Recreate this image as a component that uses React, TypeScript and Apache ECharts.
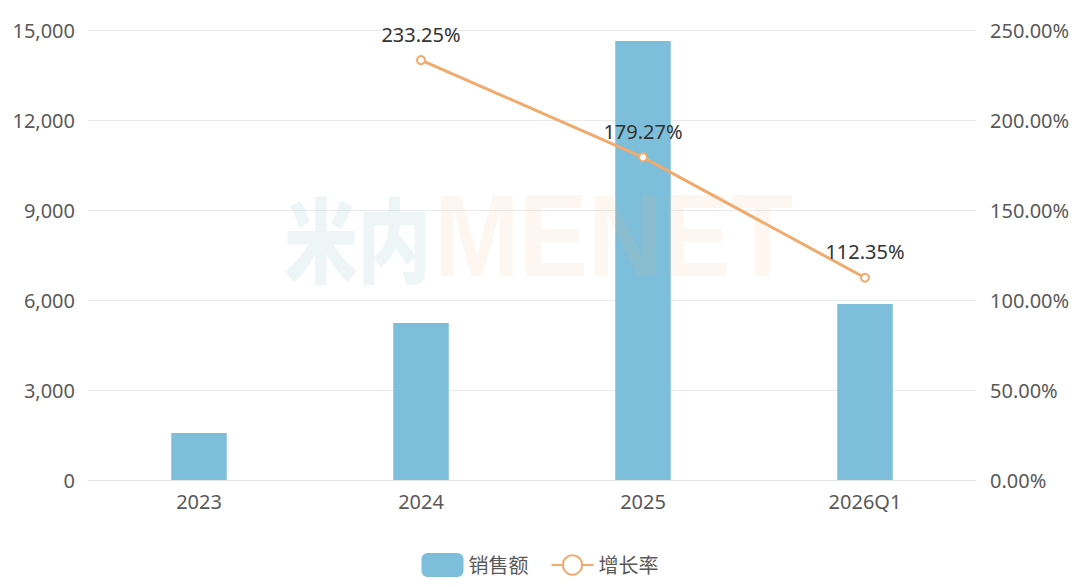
import React, { useEffect, useRef } from "react";
import * as echarts from "echarts";

const categories = ["2023", "2024", "2025", "2026Q1"];
const sales = [1570, 5230, 14630, 5870];
const growth = [null, 233.25, 179.27, 112.35];
const leftTicks = { min: 0, max: 15000, interval: 3000 };
const rightTicks = { min: 0, max: 250, interval: 50 };

const FONT = "'Noto Sans', 'Noto Sans CJK SC', sans-serif";

export default function App() {
  const ref = useRef<HTMLDivElement>(null);
  useEffect(() => {
    document.body.style.margin = "0";
    const chart = echarts.init(ref.current!, null, { renderer: "svg" });
    chart.setOption({
      animation: false,
      backgroundColor: "#ffffff",
      textStyle: { fontFamily: FONT },
      grid: { left: 88, right: 104, top: 30, bottom: 107 },
      legend: {
        bottom: 5,
        left: "center",
        itemWidth: 42,
        itemHeight: 24,
        itemGap: 22,
        textStyle: { fontSize: 20, color: "#595959", fontFamily: FONT },
        data: [
          { name: "销售额", icon: "roundRect" },
          { name: "增长率" },
        ],
      },
      graphic: [
        {
          type: "text",
          x: 284,
          y: 190,
          scaleX: 0.8,
          z: 100,
          silent: true,
          style: {
            text: "米内",
            fontSize: 92,
            fontWeight: 900,
            fontFamily: "'Noto Sans CJK SC', sans-serif",
            fill: "rgba(170,205,215,0.2)",
          },
        },
        {
          type: "text",
          x: 434,
          y: 178,
          scaleX: 0.885,
          z: 100,
          silent: true,
          style: {
            text: "MENET",
            fontSize: 116,
            fontWeight: "bold",
            fontFamily: "'Liberation Sans', Arial, sans-serif",
            fill: "rgba(250,190,140,0.12)",
          },
        },
      ],
      xAxis: {
        type: "category",
        data: categories,
        axisLine: { lineStyle: { color: "#e3e3e3" } },
        axisTick: { show: false },
        axisLabel: { fontSize: 20, color: "#595959", margin: 11 },
      },
      yAxis: [
        {
          type: "value",
          ...leftTicks,
          axisLine: { show: false },
          axisTick: { show: false },
          splitLine: { lineStyle: { color: "#eaeaea" } },
          axisLabel: {
            fontSize: 20,
            color: "#595959",
            margin: 13,
            formatter: (v: number) => v.toLocaleString("en-US"),
          },
        },
        {
          type: "value",
          ...rightTicks,
          axisLine: { show: false },
          axisTick: { show: false },
          splitLine: { show: false },
          axisLabel: {
            fontSize: 20,
            color: "#595959",
            margin: 14,
            formatter: (v: number) => v.toFixed(2) + "%",
          },
        },
      ],
      series: [
        {
          name: "销售额",
          type: "bar",
          data: sales,
          barWidth: "25%",
          itemStyle: { color: "#7dbedb" },
        },
        {
          name: "增长率",
          type: "line",
          yAxisIndex: 1,
          data: growth,
          connectNulls: false,
          symbol: "emptyCircle",
          symbolSize: 8,
          lineStyle: { color: "#f0aa6c", width: 3 },
          itemStyle: { color: "#f0aa6c", borderWidth: 2 },
          label: {
            show: true,
            position: "top",
            distance: 11,
            fontSize: 20,
            color: "#333333",
            formatter: (p: any) => p.value.toFixed(2) + "%",
          },
          z: 10,
        },
      ],
    });
    return () => chart.dispose();
  }, []);
  return <div ref={ref} style={{ width: 1080, height: 587 }} />;
}
